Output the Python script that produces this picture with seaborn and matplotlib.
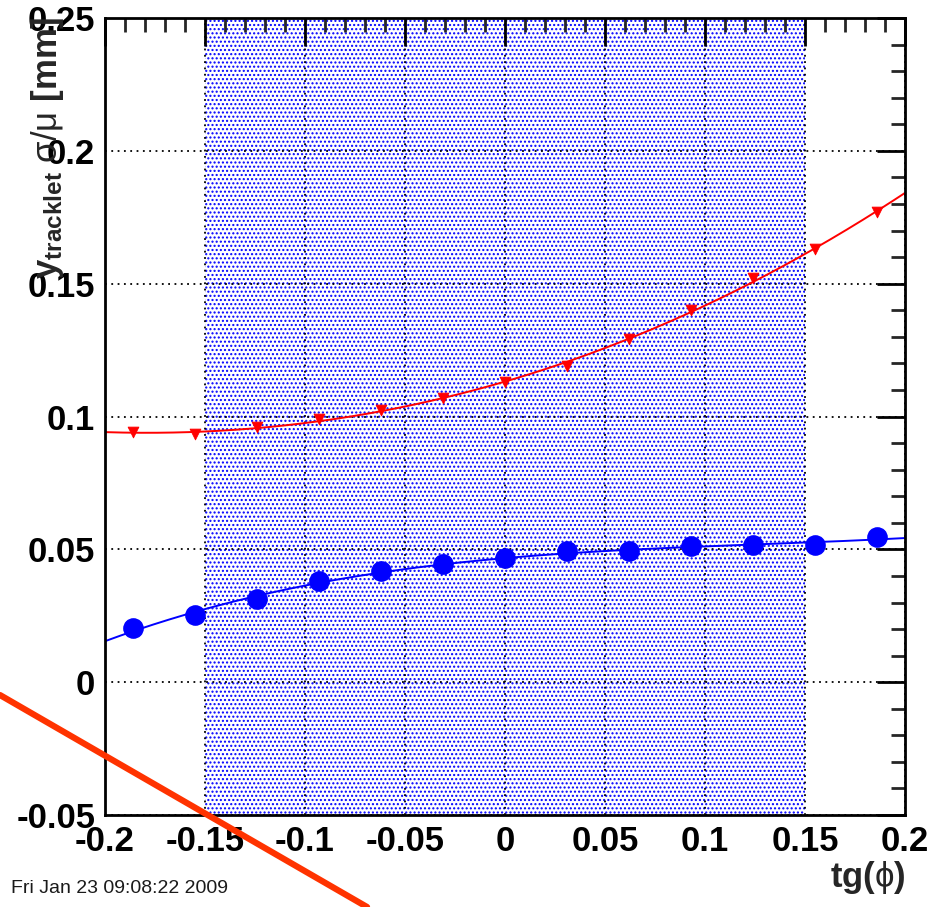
import numpy as np
import pandas as pd
import seaborn as sns
import matplotlib
matplotlib.use("Agg")
import matplotlib.pyplot as plt
from matplotlib import font_manager
from matplotlib.ticker import MultipleLocator, FormatStrFormatter
from matplotlib.lines import Line2D

# tg(phi) bin centres and measured resolutions
tg_phi = [-0.186, -0.155, -0.124, -0.093, -0.062, -0.031, 0.0,
          0.031, 0.062, 0.093, 0.124, 0.155, 0.186]
sigma_blue = [0.0203, 0.0253, 0.0312, 0.0381, 0.0419, 0.0444, 0.0467,
              0.0493, 0.0493, 0.0511, 0.0516, 0.0516, 0.0546]
sigma_red = [0.0941, 0.0933, 0.0960, 0.0990, 0.1024, 0.1070, 0.1130,
             0.1190, 0.1290, 0.1400, 0.1520, 0.1630, 0.1770]
band_range = (-0.15, 0.15)
x_ticks = [-0.2, -0.15, -0.1, -0.05, 0, 0.05, 0.1, 0.15, 0.2]
y_ticks = [-0.05, 0, 0.05, 0.1, 0.15, 0.2, 0.25]
stamp = "Fri Jan 23 09:08:22 2009"

sns.set_theme(style="white")
installed = {f.name for f in font_manager.fontManager.ttflist}
narrow = "Liberation Sans Narrow" in installed
plt.rcParams["font.family"] = (["Liberation Sans Narrow"] if narrow else []) + \
    ["Liberation Sans", "DejaVu Sans"]
tick_size = 28 if narrow else 25
plt.rcParams["mathtext.fontset"] = "custom"
plt.rcParams["mathtext.rm"] = "Liberation Sans"
plt.rcParams["mathtext.bf"] = "Liberation Sans:bold"
plt.rcParams["mathtext.it"] = "Liberation Sans:italic"
plt.rcParams["hatch.linewidth"] = 1.0
plt.rcParams["hatch.color"] = (0, 0, 1)

fig = plt.figure(figsize=(9.46, 9.07), dpi=100)
ax = fig.add_axes([0.111, 0.1014, 0.8457, 0.8787])

# shaded acceptance band (dotted fill pattern)
ax.axvspan(*band_range, facecolor="white", edgecolor=(0, 0, 1), hatch="....",
           lw=0, zorder=0.1)

df = pd.DataFrame({"tg": tg_phi, "blue": sigma_blue, "red": sigma_red})

# polynomial fits over the full range
xf = np.linspace(-0.2, 0.2, 400)
fit_blue = np.polyval(np.polyfit(df["tg"], df["blue"], 3), xf)
fit_red = np.polyval(np.polyfit(df["tg"], df["red"], 3), xf)
sns.lineplot(x=xf, y=fit_red, ax=ax, color="red", lw=1.4, zorder=2)
sns.lineplot(x=xf, y=fit_blue, ax=ax, color="blue", lw=1.4, zorder=2)

sns.scatterplot(data=df, x="tg", y="red", ax=ax, marker="v", s=60,
                color="red", edgecolor="red", zorder=3)
sns.scatterplot(data=df, x="tg", y="blue", ax=ax, marker="o", s=190,
                color="blue", edgecolor="blue", zorder=3)

ax.set_xlim(-0.2, 0.2)
ax.set_ylim(-0.05, 0.25)
ax.set_xticks(x_ticks)
ax.set_yticks(y_ticks)
ax.xaxis.set_minor_locator(MultipleLocator(0.01))
ax.yaxis.set_minor_locator(MultipleLocator(0.01))
ax.xaxis.set_major_formatter(FormatStrFormatter("%g"))
ax.yaxis.set_major_formatter(FormatStrFormatter("%g"))
ax.set_axisbelow(True)
ax.grid(True, which="major", color="black", linestyle=(0, (1, 2.5)), lw=1.3)

ax.tick_params(which="major", direction="in", length=20, width=2,
               top=True, right=True, labelsize=tick_size, pad=7, colors="black")
ax.tick_params(which="minor", direction="in", length=10, width=2,
               top=True, right=True)
for lab in ax.get_xticklabels() + ax.get_yticklabels():
    lab.set_fontweight("bold")
for sp in ax.spines.values():
    sp.set_color("black")
    sp.set_linewidth(2)
ax.set_xlabel("")
ax.set_ylabel("")

fig.text(0.050, 0.982,
         r"$\mathbf{y}_{\mathbf{tracklet}}$ $\mathrm{σ/μ}$ $\mathbf{[mm]}$",
         rotation=90, ha="center", va="top", fontsize=25)
fig.text(0.957, 0.032, r"$\mathbf{tg(}\mathrm{ϕ}\mathbf{)}$", ha="right",
         va="center", fontsize=25)
fig.text(0.012, 0.020, stamp, ha="left", va="center", fontsize=14,
         family=["Liberation Sans"], color="#1a1a1a")

# strike-through stroke across the lower-left corner
fig.add_artist(Line2D([0.0, 0.388], [0.2337, 0.0], transform=fig.transFigure,
                      color="#ff3300", lw=4.5, zorder=10))

fig.savefig("out.png", dpi=100)
